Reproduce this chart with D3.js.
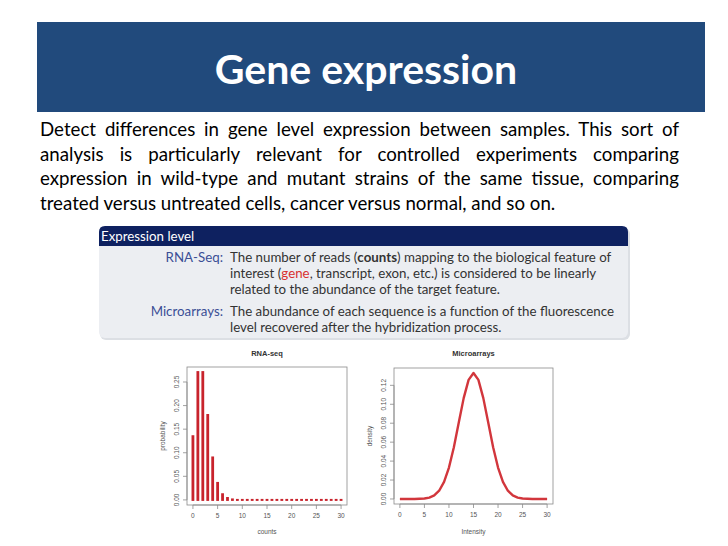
<!DOCTYPE html>
<html>
<head>
<meta charset="utf-8">
<script src="https://cdn.jsdelivr.net/npm/d3@7"></script>
<style>
body { margin: 0; background: #fff; }
</style>
</head>
<body>
<div id="chart"></div>
<script>
// data
const rnaCounts = d3.range(0, 31);
const rnaProb = [0.135, 0.271, 0.271, 0.180, 0.090, 0.036, 0.012, 0.004, 0.001, 0,
  0, 0, 0, 0, 0, 0, 0, 0, 0, 0, 0, 0, 0, 0, 0, 0, 0, 0, 0, 0, 0];
const rnaXTicks = [0, 5, 10, 15, 20, 25, 30];
const rnaYTicks = [0.00, 0.05, 0.10, 0.15, 0.20, 0.25];

const microX = d3.range(0, 31);
const microDensity = [0, 0, 0, 0, 0.0002, 0.0005, 0.0015, 0.0038, 0.0087, 0.0180,
  0.0332, 0.0547, 0.0807, 0.1065, 0.1258, 0.1330, 0.1258, 0.1065, 0.0807, 0.0547,
  0.0332, 0.0180, 0.0087, 0.0038, 0.0015, 0.0005, 0.0002, 0, 0, 0, 0];
const microXTicks = [0, 5, 10, 15, 20, 25, 30];
const microYTicks = [0.00, 0.02, 0.04, 0.06, 0.08, 0.10, 0.12];

const paragraph = [
  "Detect differences in gene level expression between samples. This sort of",
  "analysis is particularly relevant for controlled experiments comparing",
  "expression in wild-type and mutant strains of the same tissue, comparing",
  "treated versus untreated cells, cancer versus normal, and so on."
];

const svg = d3.select("#chart").append("svg")
  .attr("width", 728)
  .attr("height", 546)
  .style("font-family", "Lato, 'Open Sans', sans-serif");

svg.append("rect").attr("width", 728).attr("height", 546).attr("fill", "#fff");

// title band
svg.append("rect")
  .attr("x", 37).attr("y", 22).attr("width", 668).attr("height", 90)
  .attr("fill", "#214a7c");
svg.append("text")
  .attr("x", 366).attr("y", 84)
  .attr("text-anchor", "middle")
  .attr("fill", "#fff")
  .attr("font-size", 41).attr("font-weight", "bold")
  .text("Gene expression");

// paragraph, justified by word spacing
let para = svg.append("g").attr("fill", "#000").attr("font-size", 18.7);
paragraph.forEach((line, i) => {
  let t = para.append("text").attr("x", 40).attr("y", 136 + i * 24.6).text(line);
  if (i < paragraph.length - 1) {
    let w = t.node().getComputedTextLength();
    let gaps = line.split(" ").length - 1;
    t.attr("word-spacing", (639 - w) / gaps);
  }
});

// beamer style block
let box = svg.append("g");
box.append("rect")
  .attr("x", 100).attr("y", 228).attr("width", 530).attr("height", 112)
  .attr("rx", 6).attr("fill", "#dcdfe4");
box.append("rect")
  .attr("x", 99).attr("y", 226).attr("width", 529).attr("height", 112)
  .attr("rx", 6).attr("fill", "#eceef2");
box.append("path")
  .attr("d", "M99,246 L99,232 Q99,226 105,226 L622,226 Q628,226 628,232 L628,246 Z")
  .attr("fill", "#0e2160");
box.append("text")
  .attr("x", 101).attr("y", 241)
  .attr("fill", "#fff").attr("font-size", 13.3)
  .text("Expression level");

let body = box.append("g").attr("font-size", 13.3).attr("fill", "#333");
body.append("text").attr("x", 223).attr("y", 262).attr("text-anchor", "end")
  .attr("fill", "#3b4e96").text("RNA-Seq:");
let l1 = body.append("text").attr("x", 230).attr("y", 262);
l1.append("tspan").text("The number of reads (");
l1.append("tspan").attr("font-weight", "bold").text("counts");
l1.append("tspan").text(") mapping to the biological feature of");
let l2 = body.append("text").attr("x", 230).attr("y", 278);
l2.append("tspan").text("interest (");
l2.append("tspan").attr("fill", "#d8302f").text("gene");
l2.append("tspan").text(", transcript, exon, etc.) is considered to be linearly");
body.append("text").attr("x", 230).attr("y", 294)
  .text("related to the abundance of the target feature.");
body.append("text").attr("x", 223).attr("y", 316).attr("text-anchor", "end")
  .attr("fill", "#3b4e96").text("Microarrays:");
body.append("text").attr("x", 230).attr("y", 316)
  .text("The abundance of each sequence is a function of the fluorescence");
body.append("text").attr("x", 230).attr("y", 332)
  .text("level recovered after the hybridization process.");

// R style panel helper
function rPanel(g, x, y, xTicks, yTicks, title, xlab, ylab) {
  let [x0, x1] = x.range();
  let [y0, y1] = y.range();
  g.style("font-family", "'Liberation Sans', Arial, sans-serif");
  g.append("rect")
    .attr("x", x0).attr("y", y1).attr("width", x1 - x0).attr("height", y0 - y1)
    .attr("fill", "none").attr("stroke", "#8a8a8a").attr("stroke-width", 0.8);
  let ax = g.append("g").attr("stroke", "#8a8a8a").attr("stroke-width", 0.8);
  ax.append("line")
    .attr("x1", x(xTicks[0])).attr("x2", x(xTicks[xTicks.length - 1]))
    .attr("y1", y0).attr("y2", y0);
  ax.selectAll(".xt").data(xTicks).join("line")
    .attr("x1", d => x(d)).attr("x2", d => x(d))
    .attr("y1", y0).attr("y2", y0 + 4);
  ax.append("line")
    .attr("y1", y(yTicks[0])).attr("y2", y(yTicks[yTicks.length - 1]))
    .attr("x1", x0).attr("x2", x0);
  ax.selectAll(".yt").data(yTicks).join("line")
    .attr("y1", d => y(d)).attr("y2", d => y(d))
    .attr("x1", x0).attr("x2", x0 - 4);
  g.selectAll(".xl").data(xTicks).join("text")
    .attr("x", d => x(d)).attr("y", y0 + 13)
    .attr("text-anchor", "middle").attr("font-size", 6.5).attr("fill", "#555")
    .text(d => d);
  g.selectAll(".yl").data(yTicks).join("text")
    .attr("transform", d => `translate(${x0 - 8},${y(d)}) rotate(-90)`)
    .attr("text-anchor", "middle").attr("font-size", 6.5).attr("fill", "#555")
    .text(d => d.toFixed(2));
  g.append("text")
    .attr("x", (x0 + x1) / 2).attr("y", 356)
    .attr("text-anchor", "middle").attr("font-size", 7.5).attr("font-weight", "bold")
    .attr("fill", "#333").text(title);
  g.append("text")
    .attr("x", (x0 + x1) / 2).attr("y", 534)
    .attr("text-anchor", "middle").attr("font-size", 6.5).attr("fill", "#555")
    .text(xlab);
  g.append("text")
    .attr("transform", `translate(${x0 - 22},${(y0 + y1) / 2}) rotate(-90)`)
    .attr("text-anchor", "middle").attr("font-size", 6.5).attr("fill", "#555")
    .text(ylab);
}

// RNA-seq panel
let xR = d3.scaleLinear().domain([-1.2, 31.2]).range([187, 347]);
let yR = d3.scaleLinear().domain([-0.0108, 0.2818]).range([505, 367]);
let gR = svg.append("g");
rPanel(gR, xR, yR, rnaXTicks, rnaYTicks, "RNA-seq", "counts", "probability");
gR.selectAll(".bar").data(rnaCounts).join("rect")
  .attr("x", d => xR(d) - 1.4)
  .attr("width", 2.8)
  .attr("y", (d, i) => yR(rnaProb[i]) - 1)
  .attr("height", (d, i) => yR(0) - yR(rnaProb[i]) + 2)
  .attr("fill", "#c8232c");

// Microarrays panel
let xM = d3.scaleLinear().domain([-1.2, 31.2]).range([394, 553]);
let yM = d3.scaleLinear().domain([-0.0053, 0.1383]).range([504, 368]);
let gM = svg.append("g");
rPanel(gM, xM, yM, microXTicks, microYTicks, "Microarrays", "Intensity", "density");
gM.append("path")
  .datum(microX)
  .attr("d", d3.line().x(d => xM(d)).y((d, i) => yM(microDensity[i])))
  .attr("fill", "none")
  .attr("stroke", "#d2363c")
  .attr("stroke-width", 2.4)
  .attr("stroke-linejoin", "round");
</script>
</body>
</html>
